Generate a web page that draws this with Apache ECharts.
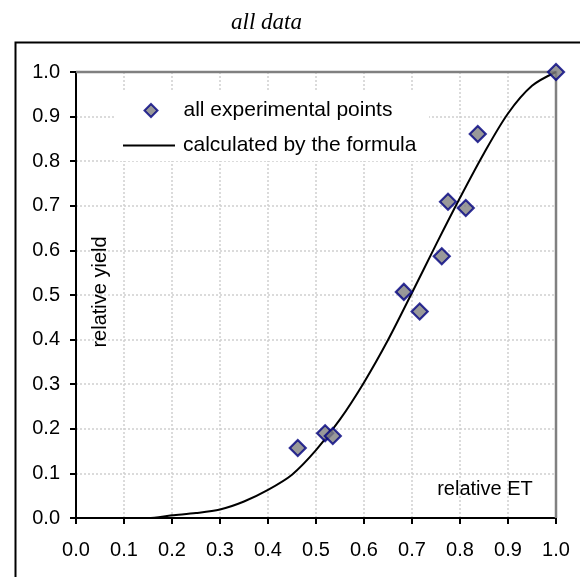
<!DOCTYPE html>
<html>
<head>
<meta charset="utf-8">
<script src="https://cdn.jsdelivr.net/npm/echarts@6/dist/echarts.min.js"></script>
<style>
  html, body { margin: 0; padding: 0; background: #fff; }
  #chart { width: 580px; height: 577px; }
</style>
</head>
<body>
<div id="chart"></div>
<script>
// measured points
const expX = [0.462, 0.519, 0.535, 0.683, 0.716, 0.762, 0.775, 0.812, 0.837, 1.0]
const expY = [0.157, 0.190, 0.184, 0.507, 0.463, 0.587, 0.709, 0.695, 0.861, 1.0]
// curve from the formula
const curveX = [0, 0.05, 0.1, 0.15, 0.2, 0.25, 0.3, 0.35, 0.4, 0.45, 0.5, 0.55, 0.6, 0.65, 0.7, 0.75, 0.8, 0.85, 0.9, 0.95, 1.0]
const curveY = [0, 0, 0, 0, 0.006, 0.011, 0.019, 0.037, 0.063, 0.097, 0.152, 0.221, 0.304, 0.399, 0.505, 0.613, 0.718, 0.818, 0.907, 0.969, 1.0]
// tick values
const ticks = [0, 0.1, 0.2, 0.3, 0.4, 0.5, 0.6, 0.7, 0.8, 0.9, 1.0]

const font = 'Liberation Sans, Arial, sans-serif'
const chart = echarts.init(document.getElementById('chart'))

const axisCommon = {
  type: 'value',
  min: ticks[0],
  max: ticks[ticks.length - 1],
  interval: 0.1,
  axisLine: { show: true, lineStyle: { color: '#000', width: 2 } },
  axisTick: { show: true, inside: false, length: 6, lineStyle: { color: '#000', width: 2 } },
  splitLine: { show: true, lineStyle: { color: '#d0d0d0', width: 1.5, type: [2, 2] } },
  axisLabel: {
    color: '#000',
    fontFamily: font,
    fontSize: 20,
    formatter: v => v.toFixed(1)
  }
}

const legendText = { fontFamily: font, fontSize: 21, color: '#000' }

chart.setOption({
  animation: false,
  title: {
    text: 'all data',
    left: 231,
    top: 11,
    padding: 0,
    textStyle: {
      fontFamily: 'Liberation Serif, Times New Roman, serif',
      fontStyle: 'italic',
      fontWeight: 'normal',
      fontSize: 23,
      color: '#000'
    }
  },
  grid: {
    left: 76,
    right: 24,
    top: 72,
    bottom: 59
  },
  xAxis: Object.assign({}, axisCommon, {
    axisLabel: Object.assign({}, axisCommon.axisLabel, { margin: 22 })
  }),
  yAxis: Object.assign({}, axisCommon, {
    axisLabel: Object.assign({}, axisCommon.axisLabel, { margin: 16 })
  }),
  legend: [
    {
      left: 143.5,
      top: 100,
      padding: 0,
      itemWidth: 13,
      itemHeight: 13,
      textStyle: Object.assign({ padding: [0, 0, 0, 21] }, legendText),
      data: [{ name: 'all experimental points', icon: 'diamond' }]
    },
    {
      left: 123,
      top: 135,
      padding: 0,
      itemWidth: 52,
      itemHeight: 2,
      textStyle: Object.assign({ padding: [0, 0, 0, 3] }, legendText),
      data: [{ name: 'calculated by the formula', icon: 'rect' }]
    }
  ],
  graphic: [
    {
      // outer chart frame
      type: 'rect',
      left: 13,
      top: 40,
      shape: { width: 590, height: 560 },
      style: { fill: 'none', stroke: '#000', lineWidth: 2 },
      z: 0
    },
    {
      // grey plot border, top and right
      type: 'polyline',
      shape: { points: [[76, 72], [556, 72], [556, 518]] },
      style: { fill: 'none', stroke: '#808080', lineWidth: 2.5 },
      z: 2
    },
    {
      // legend box
      type: 'rect',
      left: 115,
      top: 90,
      shape: { width: 314, height: 71 },
      style: { fill: '#fff' },
      z: 3
    },
    {
      type: 'text',
      x: 100,
      y: 292,
      rotation: Math.PI / 2,
      style: {
        text: 'relative yield',
        font: '20px ' + font,
        fill: '#000',
        align: 'center',
        verticalAlign: 'middle'
      },
      z: 10
    },
    {
      type: 'text',
      x: 485,
      y: 489,
      style: {
        text: 'relative ET',
        font: '20px ' + font,
        fill: '#000',
        align: 'center',
        verticalAlign: 'middle'
      },
      z: 10
    }
  ],
  series: [
    {
      name: 'all experimental points',
      type: 'scatter',
      symbol: 'diamond',
      symbolSize: 16,
      itemStyle: { color: '#808080', borderColor: '#000080', borderWidth: 2.2 },
      data: expX.map((x, i) => [x, expY[i]]),
      z: 5
    },
    {
      name: 'calculated by the formula',
      type: 'line',
      symbol: 'none',
      smooth: 0.3,
      lineStyle: { color: '#000', width: 2 },
      itemStyle: { color: '#000' },
      data: curveX.map((x, i) => [x, curveY[i]]),
      z: 4
    }
  ]
})
</script>
</body>
</html>
